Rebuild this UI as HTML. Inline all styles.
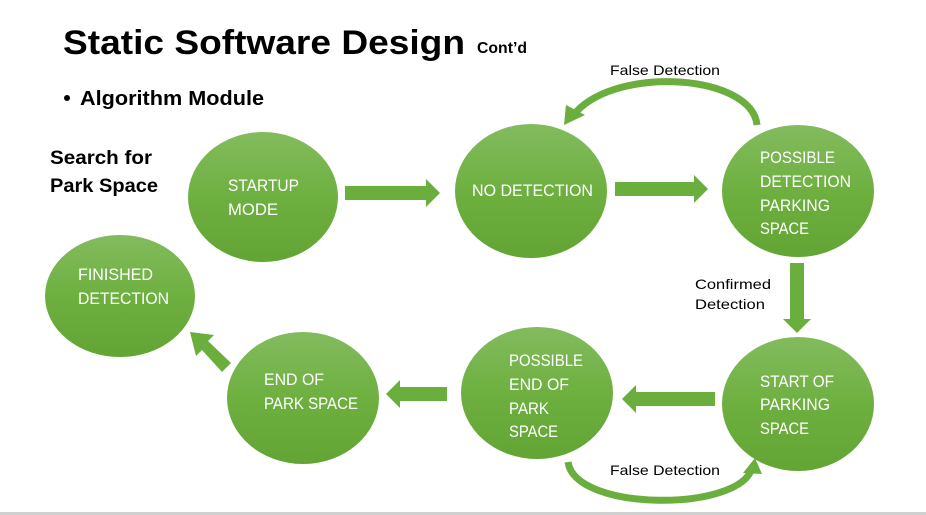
<!DOCTYPE html>
<html><head><meta charset="utf-8"><style>
html,body{margin:0;padding:0;background:#fff;width:926px;height:515px;overflow:hidden}
svg{display:block}
text{font-family:"Liberation Sans",sans-serif}
.w{fill:#fff;font-size:17px}
.b{fill:#000;font-size:14px}
</style></head><body>
<svg width="926" height="515" viewBox="0 0 926 515" xmlns="http://www.w3.org/2000/svg">
<defs>
<linearGradient id="g" x1="0" y1="0" x2="0" y2="1">
<stop offset="0" stop-color="#83bb5e"/><stop offset="0.5" stop-color="#6eb040"/><stop offset="1" stop-color="#62a534"/>
</linearGradient>
</defs>
<text x="63" y="54" font-size="34" font-weight="bold" textLength="402" lengthAdjust="spacingAndGlyphs">Static Software Design</text>
<text x="477" y="53" font-size="16" font-weight="bold" textLength="50" lengthAdjust="spacingAndGlyphs">Cont’d</text>
<circle cx="67" cy="98" r="3" fill="#000"/>
<text x="80" y="105" font-size="20" font-weight="bold" textLength="184" lengthAdjust="spacingAndGlyphs">Algorithm Module</text>
<text x="50" y="164" font-size="19" font-weight="bold" textLength="102" lengthAdjust="spacingAndGlyphs">Search for</text>
<text x="50" y="192" font-size="19" font-weight="bold" textLength="108" lengthAdjust="spacingAndGlyphs">Park Space</text>

<g fill="url(#g)">
<ellipse cx="263" cy="197" rx="75" ry="65"/>
<ellipse cx="531" cy="191" rx="76" ry="67"/>
<ellipse cx="798" cy="191" rx="76" ry="66"/>
<ellipse cx="120" cy="296" rx="75" ry="61"/>
<ellipse cx="303" cy="398" rx="76" ry="66"/>
<ellipse cx="537" cy="393" rx="76" ry="66"/>
<ellipse cx="798" cy="404" rx="76" ry="67"/>
</g>

<g fill="#6aae3e">
<polygon points="345,186 426,186 426,179 440,193 426,207 426,200 345,200"/>
<polygon points="615,182 694,182 694,175 708,189 694,203 694,196 615,196"/>
<polygon points="790,263 804,263 804,319 811,319 797,333 783,319 790,319"/>
<polygon points="715,392 636,392 636,385 622,399 636,413 636,406 715,406"/>
<polygon points="447,387 400,387 400,380 386,394 400,408 400,401 447,401"/>
<polygon points="231,363 208,341 214,335 190,332 196,356 202,350 222,372"/>
</g>
<path d="M757,125 C752,75 620,65 576,112" fill="none" stroke="#6aae3e" stroke-width="7"/>
<polygon points="564,125 566,105 585,115" fill="#6aae3e"/>
<path d="M568,462 C575,512 740,512 752,468" fill="none" stroke="#6aae3e" stroke-width="7"/>
<polygon points="755,458 743,473 762,474" fill="#6aae3e"/>

<text class="w" x="228" y="191" textLength="71" lengthAdjust="spacingAndGlyphs">STARTUP</text>
<text class="w" x="228" y="215" textLength="50" lengthAdjust="spacingAndGlyphs">MODE</text>
<text class="w" x="472" y="196" textLength="121" lengthAdjust="spacingAndGlyphs">NO DETECTION</text>
<text class="w" x="760" y="163" textLength="75" lengthAdjust="spacingAndGlyphs">POSSIBLE</text>
<text class="w" x="760" y="187" textLength="91" lengthAdjust="spacingAndGlyphs">DETECTION</text>
<text class="w" x="760" y="211" textLength="70" lengthAdjust="spacingAndGlyphs">PARKING</text>
<text class="w" x="760" y="234" textLength="49" lengthAdjust="spacingAndGlyphs">SPACE</text>
<text class="w" x="78" y="280" textLength="75" lengthAdjust="spacingAndGlyphs">FINISHED</text>
<text class="w" x="78" y="304" textLength="91" lengthAdjust="spacingAndGlyphs">DETECTION</text>
<text class="w" x="264" y="385" textLength="60" lengthAdjust="spacingAndGlyphs">END OF</text>
<text class="w" x="264" y="409" textLength="94" lengthAdjust="spacingAndGlyphs">PARK SPACE</text>
<text class="w" x="509" y="366" textLength="74" lengthAdjust="spacingAndGlyphs">POSSIBLE</text>
<text class="w" x="509" y="390" textLength="60" lengthAdjust="spacingAndGlyphs">END OF</text>
<text class="w" x="509" y="414" textLength="40" lengthAdjust="spacingAndGlyphs">PARK</text>
<text class="w" x="509" y="437" textLength="49" lengthAdjust="spacingAndGlyphs">SPACE</text>
<text class="w" x="760" y="387" textLength="74" lengthAdjust="spacingAndGlyphs">START OF</text>
<text class="w" x="760" y="410" textLength="70" lengthAdjust="spacingAndGlyphs">PARKING</text>
<text class="w" x="760" y="434" textLength="49" lengthAdjust="spacingAndGlyphs">SPACE</text>

<text class="b" x="610" y="75" textLength="110" lengthAdjust="spacingAndGlyphs">False Detection</text>
<text class="b" x="695" y="289" textLength="76" lengthAdjust="spacingAndGlyphs">Confirmed</text>
<text class="b" x="695" y="309" textLength="70" lengthAdjust="spacingAndGlyphs">Detection</text>
<text class="b" x="610" y="475" textLength="110" lengthAdjust="spacingAndGlyphs">False Detection</text>
<rect x="0" y="512" width="926" height="3" fill="#d0d0d0"/>
</svg>
</body></html>
